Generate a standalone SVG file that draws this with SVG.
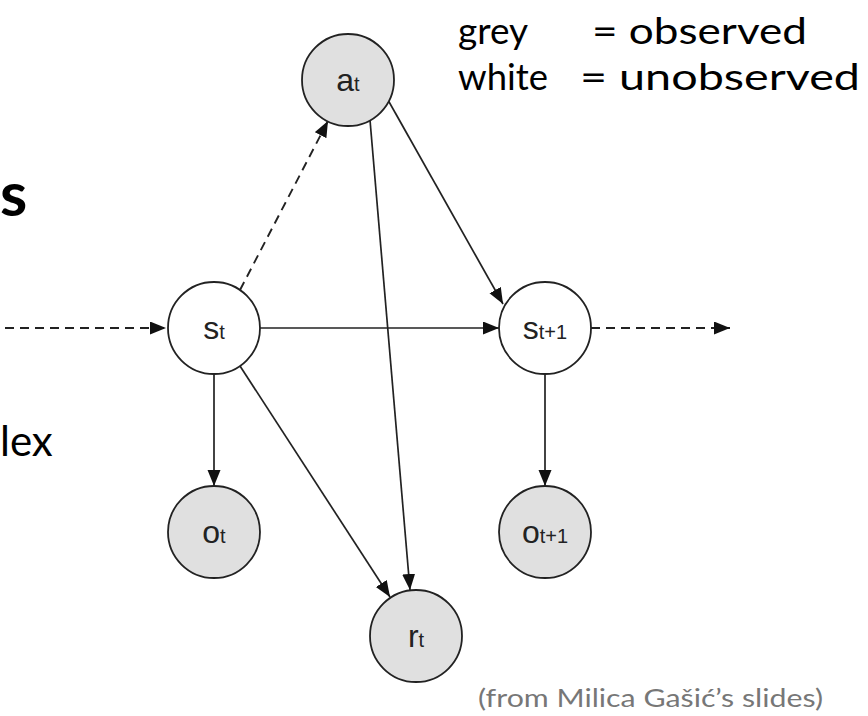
<svg xmlns="http://www.w3.org/2000/svg" width="868" height="716" viewBox="0 0 868 716">
<style>
.node circle{stroke:#222;stroke-width:1.8}
.obs{fill:#e0e0e0}
.unobs{fill:#fff}
.lbl{font-family:"Liberation Sans",Arial,sans-serif;fill:#222;text-anchor:middle}
.big{font-size:32px}
.sub{font-size:20px}
.edge{stroke:#222;stroke-width:1.7;fill:none;marker-end:url(#ah)}
.dash{stroke-dasharray:9 6;stroke-width:1.9}
.side{font-family:Lato,"Noto Sans",sans-serif;fill:#000}
</style>
<defs>
<marker id="ah" markerUnits="userSpaceOnUse" markerWidth="17" markerHeight="14" refX="16" refY="6.5" orient="auto">
<path d="M0,0 L16,6.5 L0,13 z" fill="#111"/>
</marker>
</defs>
<rect width="868" height="716" fill="#fff"/>
<text class="side" x="0" y="216" font-size="62" font-weight="bold">s</text>
<text class="side" x="0" y="456" font-size="42">lex</text>
<text class="side" x="458" y="44" font-size="37" textLength="70" lengthAdjust="spacingAndGlyphs">grey</text>
<text class="side" x="592" y="44" font-size="37" textLength="215" lengthAdjust="spacingAndGlyphs">= observed</text>
<text class="side" x="458" y="90" font-size="37" textLength="90" lengthAdjust="spacingAndGlyphs">white</text>
<text class="side" x="580" y="90" font-size="37" textLength="280" lengthAdjust="spacingAndGlyphs">= unobserved</text>
<g id="connectors">
<line class="edge dash" x1="5" y1="328" x2="166" y2="328"/>
<line class="edge dash" x1="240" y1="290" x2="328" y2="121"/>
<line class="edge" x1="388" y1="100" x2="503" y2="304"/>
<line class="edge" x1="370" y1="120" x2="410" y2="590"/>
<line class="edge" x1="260" y1="328" x2="499" y2="328"/>
<line class="edge dash" x1="591" y1="328" x2="730" y2="328"/>
<line class="edge" x1="214" y1="374" x2="214" y2="486"/>
<line class="edge" x1="240" y1="366" x2="390" y2="597"/>
<line class="edge" x1="545" y1="374" x2="545" y2="486"/>
</g>
<g id="a_t" class="node"><circle class="obs" cx="348" cy="80" r="46"/><text class="lbl" x="348" y="91"><tspan class="big">a</tspan><tspan class="sub">t</tspan></text></g>
<g id="s_t" class="node"><circle class="unobs" cx="214" cy="328" r="46"/><text class="lbl" x="214" y="339"><tspan class="big">s</tspan><tspan class="sub">t</tspan></text></g>
<g id="s_t1" class="node"><circle class="unobs" cx="545" cy="328" r="46"/><text class="lbl" x="545" y="339"><tspan class="big">s</tspan><tspan class="sub">t+1</tspan></text></g>
<g id="o_t" class="node"><circle class="obs" cx="214" cy="532" r="46"/><text class="lbl" x="214" y="543"><tspan class="big">o</tspan><tspan class="sub">t</tspan></text></g>
<g id="o_t1" class="node"><circle class="obs" cx="545" cy="532" r="46"/><text class="lbl" x="545" y="543"><tspan class="big">o</tspan><tspan class="sub">t+1</tspan></text></g>
<g id="r_t" class="node"><circle class="obs" cx="416" cy="636" r="46"/><text class="lbl" x="416" y="647"><tspan class="big">r</tspan><tspan class="sub">t</tspan></text></g>
<text class="side" x="478" y="707" font-size="25" style="fill:#777" textLength="345" lengthAdjust="spacingAndGlyphs">(from Milica Gašić’s slides)</text>
</svg>
